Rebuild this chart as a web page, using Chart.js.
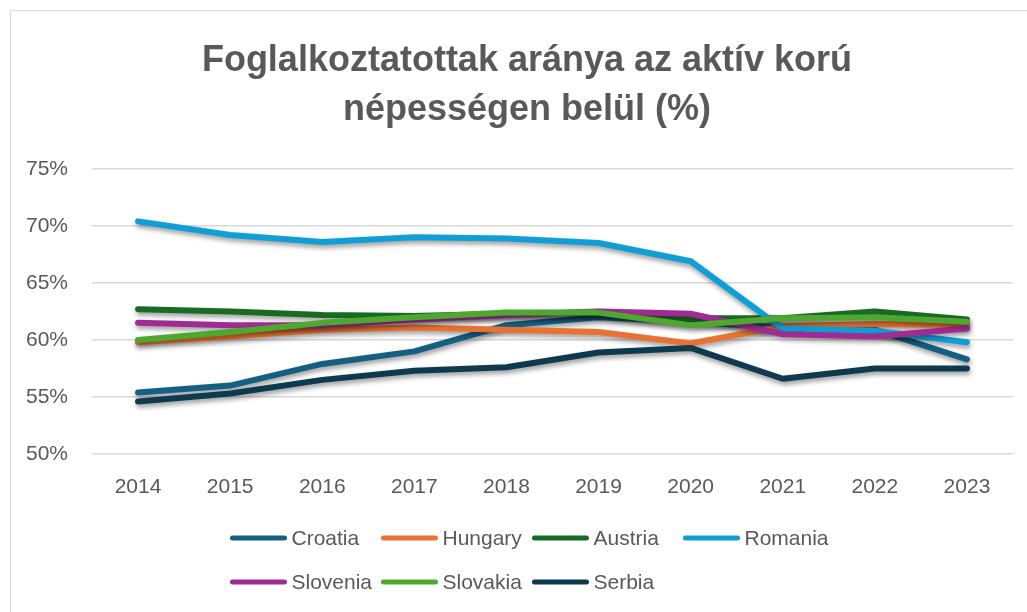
<html>
<head>
    <script src="https://cdn.jsdelivr.net/npm/chart.js@4"></script>
    <style>
        body { margin: 0; background: #fff; overflow: hidden; }
        .box {
            position: absolute;
            left: 10px;
            top: 10px;
            width: 1060px;
            height: 640px;
            border: 1px solid #d9d9d9;
        }
    </style>
</head>
<body>
    <div class="box">
        <canvas id="myChart" width="1060" height="640"></canvas>
    </div>
    <script>
        const years = ["2014", "2015", "2016", "2017", "2018", "2019", "2020", "2021", "2022", "2023"];
        const countries = ["Croatia", "Hungary", "Austria", "Romania", "Slovenia", "Slovakia", "Serbia"];
        const croatia = [55.4, 56.0, 57.9, 59.0, 61.3, 62.0, 61.6, 61.1, 60.9, 58.3];
        const hungary = [59.8, 60.3, 60.9, 61.1, 60.9, 60.7, 59.7, 61.2, 61.4, 61.3];
        const austria = [62.7, 62.5, 62.2, 62.1, 62.3, 62.4, 61.9, 61.9, 62.5, 61.8];
        const romania = [70.4, 69.2, 68.6, 69.0, 68.9, 68.5, 66.9, 61.0, 60.8, 59.8];
        const slovenia = [61.5, 61.3, 61.3, 61.8, 62.2, 62.5, 62.3, 60.5, 60.3, 61.0];
        const slovakia = [60.0, 60.7, 61.5, 62.0, 62.4, 62.4, 61.3, 61.9, 62.0, 61.6];
        const serbia = [54.6, 55.3, 56.5, 57.3, 57.6, 58.9, 59.3, 56.6, 57.5, 57.5];
        const colors = ["#156082", "#e97132", "#196b24", "#0f9ed5", "#a02b93", "#4ea72e", "#0d3a4e"];

        const series = [croatia, hungary, austria, romania, slovenia, slovakia, serbia];
        const fontName = '"Liberation Sans", Arial, sans-serif';

        // soft shadow under the lines, like excel
        const shadow = {
            id: 'shadow',
            beforeDatasetsDraw(chart) {
                const ctx = chart.ctx;
                ctx.save();
                ctx.shadowColor = 'rgba(0,0,0,0.4)';
                ctx.shadowBlur = 5;
                ctx.shadowOffsetX = 1;
                ctx.shadowOffsetY = 3;
            },
            afterDatasetsDraw(chart) {
                chart.ctx.restore();
            }
        };

        // legend in columns (row 2 lines up with row 1)
        const gridLegend = {
            id: 'gridLegend',
            afterDraw(chart) {
                const ctx = chart.ctx;
                const sets = chart.data.datasets;
                const colW = 151, lineW = 58, gap = 4, perRow = 4;
                ctx.save();
                ctx.font = '21px ' + fontName;
                const lastW = lineW + gap + ctx.measureText(sets[perRow - 1].label).width;
                const rowW = colW * (perRow - 1) + lastW;
                const x0 = 518 - rowW / 2;
                ctx.textBaseline = 'middle';
                ctx.lineCap = 'round';
                sets.forEach((ds, i) => {
                    const x = x0 + (i % perRow) * colW;
                    const y = 527 + Math.floor(i / perRow) * 44;
                    ctx.strokeStyle = ds.borderColor;
                    ctx.lineWidth = 5;
                    ctx.beginPath();
                    ctx.moveTo(x + 3, y);
                    ctx.lineTo(x + lineW - 3, y);
                    ctx.stroke();
                    ctx.fillStyle = '#595959';
                    ctx.fillText(ds.label, x + lineW + gap, y + 1);
                });
                ctx.restore();
            }
        };

        const content = {
            labels: years,
            datasets: []
        };
        countries.forEach((c, i) => {
            content.datasets.push({
                label: c,
                data: series[i],
                borderColor: colors[i],
                backgroundColor: colors[i],
                borderWidth: 6,
                borderCapStyle: 'round',
                borderJoinStyle: 'round',
                pointRadius: 0,
                fill: false,
                order: countries.length - i
            });
        });

        var ctx = document.getElementById('myChart').getContext('2d');
        var myChart = new Chart(ctx, {
            type: 'line',
            data: content,
            plugins: [shadow, gridLegend],
            options: {
                responsive: false,
                animation: false,
                layout: {
                    padding: { left: 0, right: 28, top: 0, bottom: 152 }
                },
                elements: {
                    line: { tension: 0 }
                },
                plugins: {
                    legend: { display: false },
                    tooltip: { enabled: false },
                    title: {
                        display: true,
                        text: ['Foglalkoztatottak aránya az aktív korú', 'népességen belül (%)'],
                        color: '#595959',
                        font: { family: fontName, size: 36, weight: 'bold', lineHeight: 1.36 },
                        padding: { top: 26, bottom: 34 }
                    }
                },
                scales: {
                    x: {
                        offset: true,
                        grid: { display: false, drawTicks: false },
                        border: { display: false },
                        ticks: {
                            color: '#595959',
                            font: { family: fontName, size: 21 },
                            padding: 21,
                            maxRotation: 0
                        },
                        afterFit(scale) { scale.height = 45; }
                    },
                    y: {
                        min: 50,
                        max: 75,
                        grid: { color: '#d9d9d9', lineWidth: 1.5, drawTicks: false },
                        border: { display: false },
                        ticks: {
                            stepSize: 5,
                            color: '#595959',
                            font: { family: fontName, size: 21 },
                            padding: 24,
                            callback: (v) => v + '%'
                        },
                        afterFit(scale) { scale.width = 81; }
                    },
                    // empty right axis, only keeps space so the title sits where excel puts it
                    yRight: {
                        position: 'right',
                        min: 50,
                        max: 75,
                        grid: { display: false, drawTicks: false },
                        border: { display: false },
                        ticks: { display: false },
                        afterFit(scale) { scale.width = 30; }
                    }
                }
            }
        });
    </script>
</body>
</html>
